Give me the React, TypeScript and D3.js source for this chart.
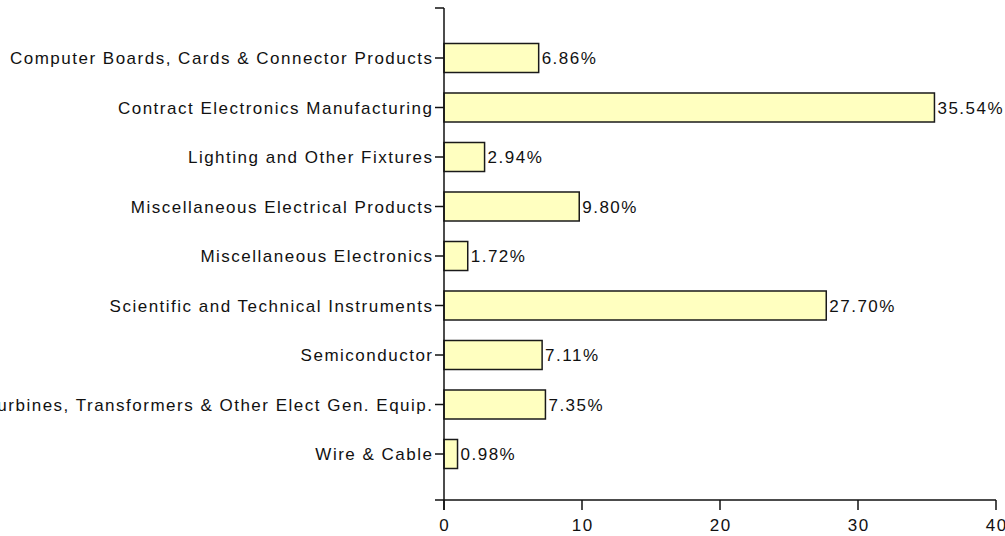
import React from "react";
import * as d3 from "d3";

const categories = [
  "Computer Boards, Cards & Connector Products",
  "Contract Electronics Manufacturing",
  "Lighting and Other Fixtures",
  "Miscellaneous Electrical Products",
  "Miscellaneous Electronics ",
  "Scientific and Technical Instruments",
  "Semiconductor",
  "Turbines, Transformers & Other Elect Gen. Equip.",
  "Wire & Cable",
];
const values = [6.86, 35.54, 2.94, 9.8, 1.72, 27.7, 7.11, 7.35, 0.98];
const xTicks = [0, 10, 20, 30, 40];

const W = 1005;
const H = 536;
const FONT = "'Liberation Sans', Arial, sans-serif";
const FS = 17;
const LS = 1.5;

export default function App() {
  const x = d3.scaleLinear().domain([0, 40]).range([444, 996]);
  const y = d3
    .scaleBand<string>()
    .domain(categories)
    .range([33.25, 478.75])
    .paddingInner(0.414)
    .paddingOuter(0.207);
  const axisTop = 8;
  const axisBottom = 500;
  const x0 = x(0);
  return (
    <svg
      width={W}
      height={H}
      style={{ position: "absolute", left: 0, top: 0, background: "#fff" }}
      fontFamily={FONT}
      fontSize={FS}
      letterSpacing={LS}
    >
      {categories.map((c, i) => {
        const yy = y(c)!;
        const cy = yy + y.bandwidth() / 2;
        return (
          <g key={c}>
            <rect
              x={x0}
              y={yy}
              width={x(values[i]) - x0}
              height={y.bandwidth()}
              fill="#FFFFC0"
              stroke="#1a1a1a"
              strokeWidth={1.5}
            />
            <text x={x(values[i]) + 3} y={cy} dy="0.36em" fill="#111">
              {values[i].toFixed(2) + "%"}
            </text>
            <line x1={435} x2={x0} y1={cy} y2={cy} stroke="#111" strokeWidth={1.5} />
            <text x={433.5} y={cy} dy="0.36em" textAnchor="end" fill="#111">
              {c}
            </text>
          </g>
        );
      })}
      <line x1={x0} x2={x0} y1={axisTop} y2={510} stroke="#111" strokeWidth={1.5} />
      <line x1={435} x2={x0} y1={axisTop} y2={axisTop} stroke="#111" strokeWidth={1.5} />
      <line x1={435} x2={x(40)} y1={axisBottom} y2={axisBottom} stroke="#111" strokeWidth={1.5} />
      {xTicks.map((t) => (
        <g key={t}>
          <line x1={x(t)} x2={x(t)} y1={axisBottom} y2={510} stroke="#111" strokeWidth={1.5} />
          <text x={x(t) + LS / 2} y={531} textAnchor="middle" fill="#111">
            {t}
          </text>
        </g>
      ))}
    </svg>
  );
}
